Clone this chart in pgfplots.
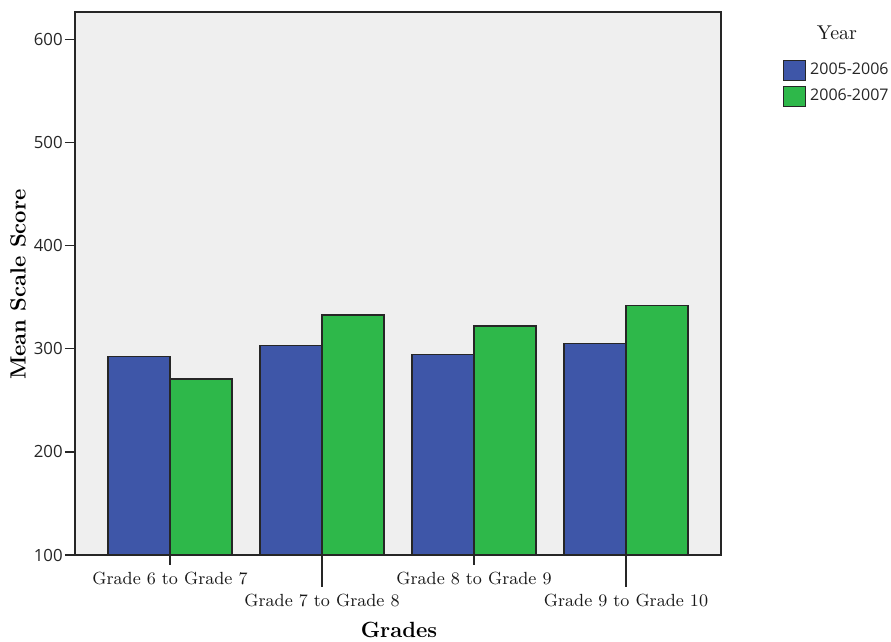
\documentclass[border=0pt]{standalone}
\usepackage{fontspec}
\usepackage{pgfplots}
\pgfplotsset{compat=1.18}
\newfontfamily\tickfont{Open Sans}
\definecolor{barblue}{HTML}{3E56A8}
\definecolor{bargreen}{HTML}{2EB84A}
\definecolor{bgc}{HTML}{EFEFEF}
\begin{document}
\begin{tikzpicture}
\useasboundingbox (0,0) rectangle (445.5pt,321pt);
\begin{axis}[
  at={(37.5pt,43.5pt)}, anchor=south west,
  scale only axis, width=323pt, height=271.5pt,
  xmin=-0.625, xmax=3.625, ymin=100, ymax=626.5,
  ybar=0pt, bar width=31pt,
  axis background/.style={fill=bgc},
  axis line style={line width=0.7pt, black!85},
  ytick={100,200,300,400,500,600},
  ytick pos=left, xtick pos=bottom,
  tick align=outside,
  major tick length=5pt,
  tick style={line width=0.7pt, black!85},
  /pgf/number format/assume math mode=true,
  yticklabel={\tickfont\fontsize{8.4}{10}\selectfont\pgfmathprintnumber[assume math mode=true]{\tick}},
  yticklabel style={text=black!85, inner sep=1pt},
  xtick={0,2},
  xticklabels={Grade 6 to Grade 7, Grade 8 to Grade 9},
  extra x ticks={1,3},
  extra x tick labels={Grade 7 to Grade 8, Grade 9 to Grade 10},
  extra x tick style={major tick length=16pt, major tick style={line width=0.7pt, draw=black!85}},
  xticklabel style={font=\fontsize{8.8}{10}\selectfont, text=black!90},
  xlabel={\textbf{Grades}},
  ylabel={\textbf{Mean Scale Score}},
  xlabel style={font=\fontsize{11}{12}\selectfont, at={(axis description cs:0.5015,-0.138)}, anchor=center},
  ylabel style={font=\fontsize{11}{12}\selectfont, at={(axis description cs:-0.0882,0.498)}, anchor=center},
  clip=false,
  legend style={at={(axis description cs:1.096,0.913)}, anchor=north west, draw=none, fill=none,
    inner sep=0pt, outer sep=0pt, row sep=1.5pt,
    font=\tickfont\fontsize{8}{9}\selectfont, text=black!85,
    /tikz/every even column/.append style={column sep=2.5pt}},
  legend cell align=left,
  legend image code/.code={\draw[#1] (0pt,-5pt) rectangle (11pt,5pt);},
]
\addplot[fill=barblue, draw=black!85, line width=0.6pt] coordinates {(0,292.3) (1,302.9) (2,294.6) (3,304.9)};
\addlegendentry{2005-2006}
\addplot[fill=bargreen, draw=black!85, line width=0.6pt] coordinates {(0,270.6) (1,332.7) (2,322) (3,342.1)};
\addlegendentry{2006-2007}
\end{axis}
\node[font=\fontsize{10}{11}\selectfont, text=black!90] at (418.5pt,304.5pt) {Year};
\end{tikzpicture}
\end{document}
